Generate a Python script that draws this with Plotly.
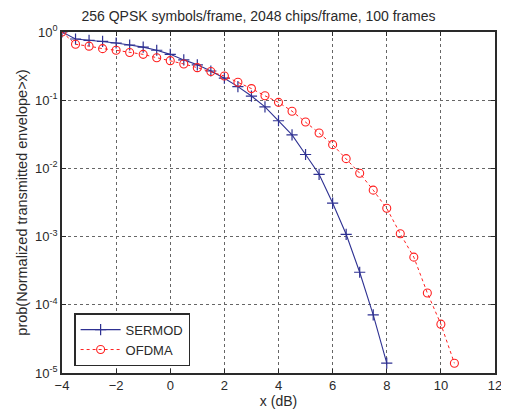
import plotly.graph_objects as go

sermod_x = [-4, -3.5, -3, -2.5, -2, -1.5, -1, -0.5, 0, 0.5, 1, 1.5, 2, 2.5, 3, 3.5, 4, 4.5, 5, 5.5, 6, 6.5, 7, 7.5, 8]
sermod_y = [1.0, 0.79, 0.755, 0.73, 0.69, 0.645, 0.60, 0.54, 0.47, 0.39, 0.33, 0.268, 0.21, 0.158, 0.115,
            0.080, 0.050, 0.031, 0.016, 0.0082, 0.0031, 0.00108, 0.00030, 7.1e-5, 1.4e-5]

ofdma_x = [-4, -3.5, -3, -2.5, -2, -1.5, -1, -0.5, 0, 0.5, 1, 1.5, 2, 2.5, 3, 3.5, 4, 4.5, 5, 5.5, 6, 6.5,
           7, 7.5, 8, 8.5, 9, 9.5, 10, 10.5]
ofdma_y = [1.0, 0.66, 0.62, 0.57, 0.54, 0.50, 0.47, 0.42, 0.38, 0.34, 0.30, 0.263, 0.226, 0.183, 0.148,
           0.116, 0.093, 0.069, 0.048, 0.033, 0.0223, 0.0139, 0.0085, 0.0048, 0.0026, 0.0011, 0.0005,
           0.000149, 5.2e-5, 1.39e-5]

x_ticks = [-4, -2, 0, 2, 4, 6, 8, 10, 12]
y_tickvals = [1, 1e-1, 1e-2, 1e-3, 1e-4, 1e-5]
y_ticktext = ["10<sup>0</sup>", "10<sup>-1</sup>", "10<sup>-2</sup>", "10<sup>-3</sup>", "10<sup>-4</sup>", "10<sup>-5</sup>"]

title_text = "256 QPSK symbols/frame, 2048 chips/frame, 100 frames"
x_title = "x (dB)"
y_title = "prob(Normalized transmitted envelope>x)"

FONT = "Liberation Sans, Arial, sans-serif"
INK = "#2a2a2a"

fig = go.Figure()
fig.add_trace(go.Scatter(
    x=sermod_x, y=sermod_y, name="SERMOD", mode="lines+markers",
    line=dict(color="#2e3192", width=1.1),
    marker=dict(symbol="cross-thin", size=8, line=dict(color="#2e3192", width=1.2)),
))
fig.add_trace(go.Scatter(
    x=ofdma_x, y=ofdma_y, name="OFDMA", mode="lines+markers",
    line=dict(color="#ff2020", width=1.0, dash="dot"),
    marker=dict(symbol="circle-open", size=8, color="#ff2020", line=dict(color="#ff2020", width=1.1)),
))

axis_common = dict(
    showline=True, linecolor=INK, linewidth=1.5, mirror="ticks",
    showgrid=True, gridcolor="#666", griddash="dot", gridwidth=1,
    ticks="inside", ticklen=4, tickcolor=INK, zeroline=False,
    tickfont=dict(family=FONT, size=13, color=INK),
)

fig.update_layout(
    width=501, height=402,
    margin=dict(l=54, r=14, t=24, b=37, autoexpand=False),
    paper_bgcolor="white", plot_bgcolor="white",
    font=dict(family=FONT, size=13, color=INK),
    title=dict(text=title_text, x=0.5, xanchor="center", y=0.98, yanchor="middle",
               font=dict(size=14, color=INK)),
    xaxis=dict(range=[-4, 12], tickvals=x_ticks,
               title=dict(text=x_title, standoff=2, font=dict(size=14)), **axis_common),
    yaxis=dict(type="log", range=[-5, 0], tickvals=y_tickvals, ticktext=y_ticktext,
               title=dict(text=y_title, standoff=4, font=dict(size=14.5)), **axis_common),
    legend=dict(x=0.028, y=0.02, xanchor="left", yanchor="bottom",
                bordercolor=INK, borderwidth=1.5, bgcolor="white",
                font=dict(size=13, color=INK), itemwidth=40, tracegroupgap=0),
    showlegend=True,
)

fig.write_html("out.html")
